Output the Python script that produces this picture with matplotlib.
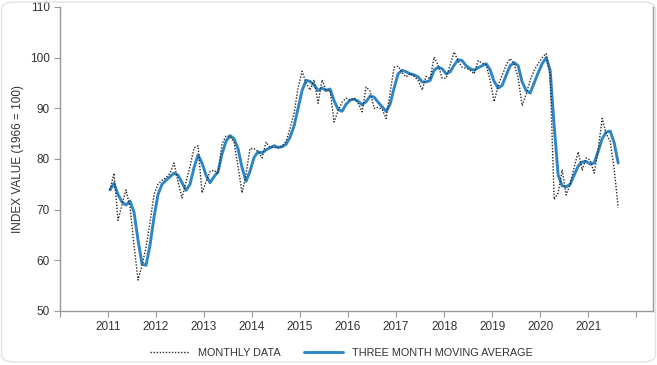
import numpy as np
import matplotlib
matplotlib.use("Agg")
import matplotlib.pyplot as plt
from matplotlib.patches import FancyBboxPatch

plt.rcParams['font.family'] = ['Liberation Sans', 'DejaVu Sans']

# monthly index values, Jan 2011 .. Aug 2021
monthly = [
    73.9, 77.2, 67.9, 71.0, 73.9, 70.5, 63.0, 56.1, 59.0, 62.5, 67.5, 73.0,   # 2011
    75.0, 75.8, 76.3, 77.2, 79.2, 75.5, 72.3, 75.5, 78.5, 82.2, 82.6, 73.3,   # 2012
    75.5, 77.5, 77.8, 77.0, 83.0, 84.5, 84.5, 83.3, 78.5, 73.3, 77.0, 82.1,   # 2013
    82.0, 81.5, 80.2, 83.3, 82.3, 82.3, 82.2, 82.5, 83.5, 86.0, 89.0, 94.0,   # 2014
    97.3, 95.0, 93.6, 95.6, 91.0, 95.6, 93.6, 93.5, 87.3, 89.5, 91.2, 92.0,   # 2015
    91.6, 92.0, 91.0, 89.3, 94.2, 93.4, 90.0, 90.2, 89.8, 88.0, 93.0, 98.1,   # 2016
    98.3, 97.0, 96.2, 96.9, 96.3, 95.5, 93.6, 96.3, 95.8, 100.1, 98.5, 96.0,  # 2017
    95.9, 98.6, 101.1, 99.3, 98.1, 97.9, 97.5, 96.8, 99.4, 98.9, 98.6, 95.5,  # 2018
    91.3, 94.5, 96.5, 98.5, 99.8, 98.8, 96.0, 90.5, 92.8, 95.5, 97.5, 98.8,   # 2019
    100.0, 100.8, 96.5, 72.0, 73.3, 77.8, 72.9, 75.0, 78.4, 81.4, 77.8, 80.2, # 2020
    79.8, 77.2, 81.8, 88.0, 85.0, 83.5, 78.0, 70.4,                           # 2021
]

# three month moving average as drawn
moving_avg = [
    73.9, 75.2, 73.0, 71.5, 70.9, 71.7, 69.5, 64.0, 59.3, 59.0, 63.0, 68.5,   # 2011
    73.0, 75.0, 75.8, 76.5, 77.2, 76.8, 75.3, 73.8, 75.0, 78.3, 80.8, 79.2,   # 2012
    76.8, 75.3, 76.5, 77.5, 81.0, 83.5, 84.6, 84.0, 82.0, 78.3, 75.6, 77.6,   # 2013
    80.3, 81.4, 81.2, 81.8, 82.2, 82.6, 82.3, 82.4, 82.9, 84.3, 86.5, 90.0,   # 2014
    93.5, 95.5, 95.3, 94.6, 93.5, 94.0, 93.5, 93.8, 91.5, 89.8, 89.4, 90.8,   # 2015
    91.6, 91.8, 91.4, 90.7, 91.3, 92.4, 92.2, 91.2, 90.3, 89.4, 90.8, 94.0,   # 2016
    96.8, 97.5, 97.2, 96.8, 96.6, 96.2, 95.2, 95.2, 95.5, 97.5, 98.1, 97.8,   # 2017
    96.8, 97.2, 98.5, 99.6, 99.4, 98.4, 97.8, 97.5, 98.0, 98.4, 98.8, 97.6,   # 2018
    95.3, 94.0, 94.5, 96.5, 98.4, 99.0, 98.4, 95.2, 93.5, 93.0, 95.0, 97.0,   # 2019
    98.8, 100.0, 97.5, 86.5, 76.8, 74.7, 74.5, 75.0, 76.8, 78.6, 79.4, 79.5,  # 2020
    79.0, 79.2, 81.5, 84.0, 85.3, 85.5, 83.2, 79.2,                           # 2021
]

years = list(range(2010, 2023))
year_labels = [''] + [str(y) for y in range(2011, 2022)] + ['']

# months plotted at mid-month positions
x = 2011 + (np.arange(len(monthly)) + 0.5) / 12

fig = plt.figure(figsize=(6.57, 3.65), dpi=100)
ax = fig.add_axes([0.0913, 0.148, 0.9026, 0.833])

ax.plot(x, moving_avg, color='#2f86c6', linewidth=2.1, solid_capstyle='round',
        label='THREE MONTH MOVING AVERAGE', zorder=2)
ax.plot(x, monthly, color='#2a2a2a', linewidth=1.0, linestyle=(0, (1, 1.2)),
        label='MONTHLY DATA', zorder=3)

ax.set_xlim(2010, 2022.35)
ax.set_ylim(50, 110)
ax.set_xticks(years)
ax.set_xticklabels(year_labels)
ax.set_yticks(range(50, 111, 10))

ax.set_ylabel('INDEX VALUE (1966 = 100)', fontsize=8.5, color='#333333', labelpad=4)
ax.tick_params(axis='both', labelsize=8.5, colors='#333333', length=4, width=0.8,
               direction='out')
ax.tick_params(axis='both', color='#999999')

ax.spines['top'].set_visible(False)
for side in ['left', 'bottom', 'right']:
    ax.spines[side].set_color('#999999')
    ax.spines[side].set_linewidth(1.0)

handles, labels = ax.get_legend_handles_labels()
fig.legend(handles[::-1], labels[::-1], loc='center', bbox_to_anchor=(0.52, 0.033),
           ncol=2, frameon=False, fontsize=7.8, handlelength=3.6, columnspacing=2.2,
           labelcolor='#333333')

# light card outline of the screenshot
card = FancyBboxPatch((1.5 / 657, 3 / 365), 654 / 657, 360 / 365,
                      boxstyle='round,pad=0,rounding_size=0.02',
                      transform=fig.transFigure, fill=False,
                      edgecolor='#e2e2e2', linewidth=1.0, zorder=0)
fig.patches.append(card)

fig.savefig('out.png', dpi=100)
